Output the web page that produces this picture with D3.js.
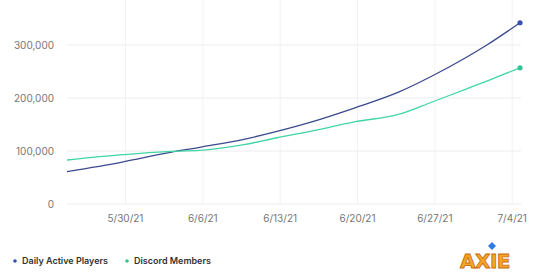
<!DOCTYPE html>
<html>
<head>
<meta charset="utf-8">
<script src="https://cdn.jsdelivr.net/npm/d3@7"></script>
<style>
  html, body { margin: 0; padding: 0; background: #fff; }
  svg { display: block; }
</style>
</head>
<body>
<svg id="chart" width="554" height="277"></svg>
<script>
// ---- data ----
const dates = ["2021-05-25","2021-05-30","2021-06-03","2021-06-06","2021-06-10","2021-06-13","2021-06-16","2021-06-20","2021-06-24","2021-06-27","2021-06-30","2021-07-02","2021-07-05"];
const dailyActivePlayers = [61000, 79000, 96000, 107000, 122000, 137000, 154000, 181000, 211000, 241000, 275000, 300000, 342000];
const discordMembers     = [83000, 93000, 99000, 101000, 112000, 125000, 137000, 155000, 169000, 192000, 216000, 232000, 257000];
const xTickDates  = ["2021-05-30T07:00Z","2021-06-06T07:00Z","2021-06-13T07:00Z","2021-06-20T07:00Z","2021-06-27T07:00Z","2021-07-04T07:00Z"];
const xTickLabels = ["5/30/21","6/6/21","6/13/21","6/20/21","6/27/21","7/4/21"];
const yTicks = [0, 100000, 200000, 300000];
const seriesNames = ["Daily Active Players", "Discord Members"];

// ---- layout ----
const svg = d3.select("#chart");
const left = 67, right = 520, bottom = 204;
const font = "Inter, 'Open Sans', sans-serif";
const lineColors = ["#3b4a8e", "#3fd6a5"];
const dotColors  = ["#3a4fb3", "#33c48f"];

const parsed = dates.map(d => new Date(d + "T00:00Z"));
const x = d3.scaleUtc().domain([parsed[0], parsed[parsed.length - 1]]).range([left, right]);
const y = d3.scaleLinear().domain([0, 400000]).range([bottom, bottom - 212]);

// grid: vertical
const tickDates = xTickDates.map(s => new Date(s));
svg.append("g").selectAll("line").data(tickDates).join("line")
  .attr("x1", d => x(d)).attr("x2", d => x(d))
  .attr("y1", 0).attr("y2", bottom)
  .attr("stroke", "#f2f2f2").attr("stroke-width", 1);

// grid: horizontal
svg.append("g").selectAll("line").data(yTicks).join("line")
  .attr("x1", left).attr("x2", right + 1)
  .attr("y1", d => y(d)).attr("y2", d => y(d))
  .attr("stroke", "#ededed").attr("stroke-width", 1.2);

// y labels
const fmt = d3.format(",");
svg.append("g").selectAll("text").data(yTicks).join("text")
  .attr("x", 54).attr("y", d => y(d)).attr("dy", "0.35em")
  .attr("text-anchor", "end")
  .attr("font-family", font).attr("font-size", 10).attr("fill", "#767676")
  .text(d => fmt(d));

// x labels
svg.append("g").selectAll("text").data(tickDates).join("text")
  .attr("x", d => x(d)).attr("y", 218).attr("dy", "0.35em")
  .attr("text-anchor", "middle")
  .attr("font-family", font).attr("font-size", 10).attr("fill", "#767676")
  .text((d, i) => xTickLabels[i]);

// lines
const series = [dailyActivePlayers, discordMembers];
const line = d3.line().x((d, i) => x(parsed[i])).y(d => y(d)).curve(d3.curveMonotoneX);
series.forEach((vals, k) => {
  svg.append("path").datum(vals)
    .attr("d", line).attr("fill", "none")
    .attr("stroke", lineColors[k]).attr("stroke-width", 1.3);
  const n = vals.length - 1;
  svg.append("circle")
    .attr("cx", x(parsed[n])).attr("cy", y(vals[n])).attr("r", 2.6)
    .attr("fill", dotColors[k]);
});

// legend
const legendX = [15, 127];
const lg = svg.append("g").selectAll("g").data(seriesNames).join("g")
  .attr("transform", (d, i) => `translate(${legendX[i]},261)`);
lg.append("circle").attr("r", 1.8).attr("fill", (d, i) => dotColors[i]);
lg.append("text").attr("x", 7).attr("dy", "0.35em")
  .attr("font-family", font).attr("font-size", 9).attr("font-weight", 600)
  .attr("fill", "#333").text(d => d);

// logo
const logo = svg.append("g").attr("transform", "translate(485,268)");
logo.append("text").attr("text-anchor", "middle")
  .attr("font-family", "'DejaVu Sans', sans-serif").attr("font-size", 20).attr("font-weight", 900)
  .attr("fill", "#f6a623").attr("stroke", "#c86a12").attr("stroke-width", 0.8)
  .attr("letter-spacing", -0.5).text("AXIE");
logo.append("path").attr("d", "M 7 -26 L 11 -22 L 7 -18 L 3 -22 Z").attr("fill", "#2f7be0");
</script>
</body>
</html>
